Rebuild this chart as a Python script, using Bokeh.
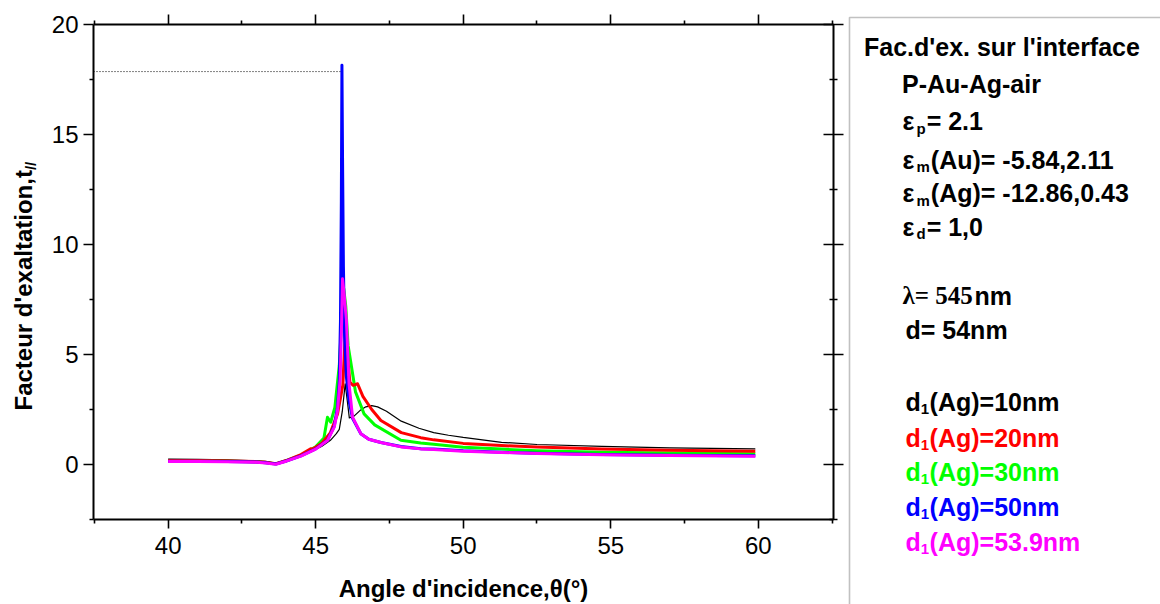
from math import pi
from bokeh.plotting import figure
from bokeh.models import Range1d, LinearAxis, FixedTicker, Label, BoxAnnotation
from bokeh.embed import file_html
from bokeh.resources import INLINE

# ---------------- data ----------------
x_10 = [40, 41, 42, 43, 43.3, 43.65, 44.0, 44.5, 45.0, 45.2, 45.5, 45.7, 45.8, 45.9, 46.0, 46.08, 46.14,
        46.3, 46.5, 46.7, 46.9, 47.1, 47.4, 47.9, 48.5, 49.0, 49.5, 50, 51.3, 52.5, 54.7, 57, 59.9]
y_10 = [0.24, 0.23, 0.21, 0.17, 0.14, 0.05, 0.2, 0.41, 0.7, 0.82, 1.1, 1.4, 1.6, 2.4, 3.67, 2.8, 2.12,
        2.2, 2.45, 2.62, 2.68, 2.62, 2.42, 1.97, 1.65, 1.45, 1.33, 1.23, 1.01, 0.91, 0.82, 0.76, 0.71]

x_20 = [40, 41, 42, 43, 43.3, 43.65, 44.0, 44.5, 44.83, 44.9, 45.2, 45.5, 45.74, 45.92, 46.01, 46.08, 46.16,
        46.27, 46.42, 46.6, 46.9, 47.21, 47.9, 48.56, 49.0, 50.0, 51.3, 52.5, 54.7, 57, 59.9]
y_20 = [0.18, 0.18, 0.16, 0.13, 0.1, 0.04, 0.18, 0.45, 0.72, 0.7, 0.95, 1.45, 2.3, 3.6, 6.17, 4.9, 3.74,
        3.6, 3.67, 3.1, 2.5, 2.0, 1.45, 1.22, 1.12, 0.96, 0.86, 0.8, 0.71, 0.65, 0.6]

x_30 = [40, 41, 42, 43, 43.3, 43.65, 44.0, 44.5, 45.0, 45.28, 45.4, 45.51, 45.65, 45.8, 45.88, 45.95, 46.02,
        46.1, 46.19, 46.35, 46.64, 47.0, 47.89, 48.56, 49.0, 50, 51.3, 52.5, 54.7, 57, 59.9]
y_30 = [0.17, 0.17, 0.15, 0.12, 0.09, 0.03, 0.17, 0.42, 0.8, 1.2, 2.15, 1.92, 2.6, 4.5, 6.5, 8.0, 7.2,
        5.4, 4.65, 3.3, 2.3, 1.8, 1.1, 0.98, 0.92, 0.78, 0.7, 0.63, 0.56, 0.52, 0.49]

x_50 = [40, 41, 42, 43, 43.3, 43.65, 44.0, 44.5, 45.0, 45.4, 45.63, 45.74, 45.8, 45.84, 45.87, 45.89, 45.91,
        45.94, 45.98, 46.04, 46.13, 46.25, 46.53, 46.8, 47.21, 47.89, 48.56, 49.0, 50, 51.3, 52.5, 54.7, 57, 59.9]
y_50 = [0.15, 0.15, 0.14, 0.11, 0.08, 0.02, 0.16, 0.39, 0.71, 1.1, 1.75, 2.6, 3.8, 6.5, 12.0, 18.15, 14.0,
        9.0, 5.8, 4.0, 2.9, 2.1, 1.4, 1.15, 1.0, 0.82, 0.72, 0.7, 0.62, 0.56, 0.51, 0.45, 0.42, 0.40]

x_539 = [40, 41, 42, 43, 43.3, 43.65, 44.0, 44.5, 45.0, 45.4, 45.63, 45.74, 45.83, 45.88, 45.91, 45.96, 46.04,
         46.13, 46.25, 46.53, 46.8, 47.21, 47.89, 48.56, 49.0, 50, 51.3, 52.5, 54.7, 57, 59.9]
y_539 = [0.14, 0.14, 0.13, 0.1, 0.07, 0.01, 0.15, 0.38, 0.7, 1.09, 1.7, 2.45, 3.9, 6.5, 8.44, 7.8, 6.6,
         3.67, 2.15, 1.4, 1.15, 1.0, 0.8, 0.71, 0.68, 0.6, 0.55, 0.5, 0.44, 0.41, 0.38]

drop_x = [37.47, 45.87]
drop_y = [17.86, 17.86]

x_major = [40, 45, 50, 55, 60]
x_minor = [37.5, 42.5, 47.5, 52.5, 57.5, 62.5]
y_major = [0, 5, 10, 15, 20]
y_minor = [-2.5, 2.5, 7.5, 12.5, 17.5]

series_x = [x_10, x_20, x_30, x_50, x_539]
series_y = [y_10, y_20, y_30, y_50, y_539]
series_names = ["10nm", "20nm", "30nm", "50nm", "53.9nm"]
series_colors = ["black", "#FF0000", "#00FF00", "#0000FF", "#FF00FF"]
series_widths = [1.2, 3, 3, 3, 3]
draw_order = [0, 2, 1, 3, 4]

x_title = "Angle d'incidence,\u03b8(\u00b0)"
y_title = "Facteur d'exaltation,t"
y_title_sub = "//"

legend_title = "Fac.d'ex. sur l'interface"
legend_system = "P-Au-Ag-air"
eps_subs = ["p", "m", "m", "d"]
eps_rest = ["= 2.1", "(Au)= -5.84,2.11", "(Ag)= -12.86,0.43", "= 1,0"]
lambda_text = "\u03bb= 545"
lambda_unit = "nm"
thickness_text = "d= 54nm"
series_prefix = "(Ag)="

# ---------------- geometry ----------------
W, H = 1160, 604
X0, X1 = 37.47, 62.55          # visible axis span
Y0, Y1 = -2.5, 20.0
PL, PR, PT, PB = 93, 833, 24, 519   # plot box in page pixels
xpu = (PR - PL) / (X1 - X0)
ypu = (PB - PT) / (Y1 - Y0)
BASE_FIX = 9                    # measured offset of the rendered baseline

SANS = "Liberation Sans"
SERIF = "Liberation Serif"
WB = {' ': 278, "'": 238, '(': 333, ')': 333, ',': 278, '-': 333, '.': 278, '/': 278, '=': 584,
      'A': 722, 'F': 611, 'P': 667, 'a': 556, 'c': 556, 'd': 611, 'e': 556, 'f': 333, 'g': 611,
      'i': 278, 'l': 278, 'm': 889, 'n': 611, 'o': 611, 'p': 611, 'r': 389, 's': 556, 't': 333,
      'u': 611, 'x': 556, '\u03b5': 560, '\u03bb': 560}
WSB = {' ': 250, '=': 570, '\u03bb': 560}


def tw(s, size, table=WB, default=556):
    return sum(table.get(c, default) for c in s) * size / 1000.0


p = figure(width=W, height=H, min_border=0,
           x_range=Range1d(X0 - PL / xpu, X1 + (W - PR) / xpu),
           y_range=Range1d(Y0 - (H - PB) / ypu, Y1 + PT / ypu),
           x_axis_location=None, y_axis_location=None,
           output_backend="svg", toolbar_location=None)
p.outline_line_color = None
p.grid.visible = False
p.background_fill_color = "white"
p.border_fill_color = "white"


def make_axis(loc, fixed, bounds, ticks, minor, t_in, t_out, m_in, m_out, labels):
    ax = LinearAxis(fixed_location=fixed, bounds=bounds,
                    ticker=FixedTicker(ticks=ticks, minor_ticks=minor))
    ax.axis_line_width = 2
    ax.axis_line_color = "black"
    ax.major_tick_line_width = 1.6
    ax.minor_tick_line_width = 1.6
    ax.major_tick_line_color = "black"
    ax.minor_tick_line_color = "black"
    ax.major_tick_in = t_in
    ax.major_tick_out = t_out
    ax.minor_tick_in = m_in
    ax.minor_tick_out = m_out
    ax.major_label_text_font = SANS
    ax.major_label_text_color = "black" if labels else None
    ax.major_label_text_font_size = "24px"
    p.add_layout(ax, loc)
    return ax


bottom = make_axis("below", Y0, (X0, X1), x_major, x_minor, 0, 9, 0, 4, True)
bottom.major_label_standoff = 8
top = make_axis("above", Y1, (X0, X1), x_major, x_minor, 0, 10, 0, 4, False)
left = make_axis("left", X0, (Y0, Y1), y_major, y_minor, 0, 10, 0, 4, True)
left.major_label_standoff = 5
right = make_axis("right", X1, (Y0, Y1), y_major, y_minor, 10, 10, 4, 4, False)

# drop line from the peak to the y axis
p.line(drop_x, drop_y, line_color="black", line_width=1, line_dash="1 2")

for i in draw_order:
    p.line(series_x[i], series_y[i], line_color=series_colors[i], line_width=series_widths[i],
           line_join="round")


def txt(text, X, Y, size, color="black", font=SANS, style="bold", angle=0.0, align="left"):
    """X, Y: page pixels of the wanted text baseline anchor."""
    if angle == 0:
        Y = Y - BASE_FIX
    else:
        X = X - BASE_FIX
    p.add_layout(Label(x=X, y=H - Y, x_units="screen", y_units="screen", text=text, angle=angle,
                       text_align=align, text_baseline="alphabetic", text_font=font,
                       text_font_style=style, text_font_size="%spx" % size, text_color=color))


# axis titles
txt(x_title, (PL + PR) / 2, 597, 24, align="center")
YT = 24
txt(y_title, 32, 410, YT, angle=pi / 2)
txt(y_title_sub, 39, 410 - tw(y_title, YT), 15, angle=pi / 2)

# legend box (left and top edges visible, the rest runs off the page)
p.add_layout(BoxAnnotation(left=849, right=W + 50, top=H - 17, bottom=-50,
                           left_units="screen", right_units="screen",
                           top_units="screen", bottom_units="screen",
                           fill_alpha=0, line_color="#333333", line_width=1.6))

FS, SS, SUBDY = 25, 15, 7
txt(legend_title, 863.5, 55, FS)
txt(legend_system, 901.5, 92, FS)
eps_base = [129.5, 168, 201.5, 235]
for sub, rest, b in zip(eps_subs, eps_rest, eps_base):
    x0 = 902
    txt("\u03b5", x0, b, FS)
    xs = x0 + tw("\u03b5", FS)
    txt(sub, xs, b + SUBDY, SS)
    txt(rest, xs + tw(sub, SS) + 1, b, FS)

txt(lambda_text, 902, 304, FS, font=SERIF)
txt(lambda_unit, 902 + tw(lambda_text, FS, WSB, 500), 304, FS)
txt(thickness_text, 905, 338.5, FS)

ser_base = [410.5, 446, 480.5, 515, 550]
for name, c, b in zip(series_names, series_colors, ser_base):
    x0 = 905
    txt("d", x0, b, FS, color=c)
    xs = x0 + tw("d", FS)
    txt("1", xs, b + SUBDY, SS, color=c)
    txt(series_prefix + name, xs + tw("1", SS) + 0.5, b, FS, color=c)

open("out.html", "w").write(file_html(p, INLINE))
